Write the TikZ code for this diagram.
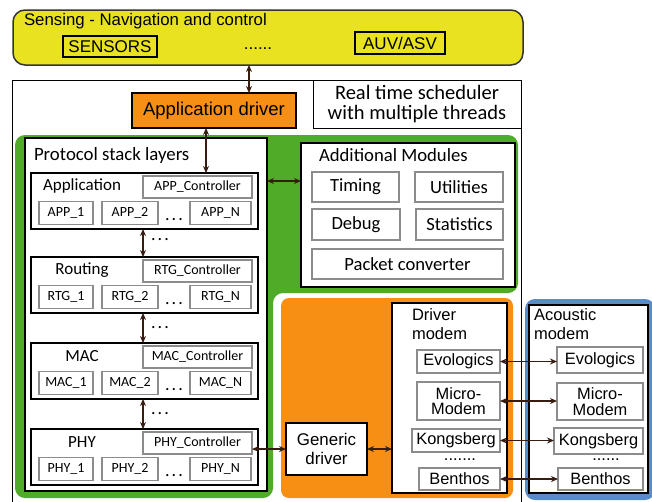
\documentclass[tikz,border=0pt]{standalone}
\usepackage{fontspec}
\setmainfont{Carlito}
\newfontfamily\arialf{Liberation Sans}
\usetikzlibrary{arrows.meta,calc}
\definecolor{cyel}{RGB}{232,226,32}
\definecolor{cgreen}{RGB}{80,172,40}
\definecolor{corange}{RGB}{246,143,20}
\definecolor{cblue}{RGB}{88,140,200}
\definecolor{cgray}{RGB}{140,140,140}
\definecolor{carr}{RGB}{55,28,18}
\newcommand\spdots{.\hspace{2pt}.\hspace{2pt}.}
\begin{document}
\begin{tikzpicture}[x=1pt,y=-1pt,
  every node/.style={inner sep=0pt,outer sep=0pt},
  wh/.style 2 args={minimum width=#1,minimum height=#2},
  tbox/.style={draw=black,line width=2pt,fill=white},
  layer/.style={draw=black,line width=2pt,fill=white},
  sub/.style={draw=cgray,line width=1.1pt,fill=white,font=\fontsize{14}{16}\selectfont},
  mod/.style={draw=cgray,line width=1.1pt,fill=white,font=\fontsize{18.6}{20}\selectfont},
  dev/.style={draw=cgray,line width=1.1pt,fill=white,font=\arialf\fontsize{16.4}{15.5}\selectfont,align=center},
  dotf/.style={font=\fontsize{18}{20}\selectfont},
  arr/.style={draw=carr,line width=1.5pt,{Stealth[length=7pt,width=6pt]}-{Stealth[length=7pt,width=6pt]}},
]
\fill[white] (0,0) rectangle (652,501);
\useasboundingbox (0,0) rectangle (652,501);

% Sensing - navigation
\node[draw=black!80,line width=1.5pt,fill=cyel,rounded corners=12pt,wh={510pt}{55pt}] (sense) at (268,37.5) {};
\node[anchor=west,font=\arialf\fontsize{16.8}{18}\selectfont] (senset) at (24,21) {Sensing - Navigation and control};
\node[draw=black,line width=1.5pt,wh={94pt}{21pt},font=\arialf\fontsize{17}{18}\selectfont] (sensors) at (110,46.5) {SENSORS};
\node[font=\arialf\fontsize{17}{18}\selectfont] (sdots) at (258,49) {......};
\node[draw=black,line width=1.5pt,wh={90pt}{22pt},font=\arialf\fontsize{17}{18}\selectfont] (auv) at (400,43) {AUV/ASV};

% outer frame
\draw[line width=1pt] (12,505) -- (12,80) -- (521,80) -- (521,505);
\node[draw=black,line width=1pt,fill=white,wh={208pt}{48pt},align=center,font=\fontsize{20.5}{20}\selectfont] (rts) at (417,104) {Real time scheduler\\with multiple threads};

% green region
\fill[cgreen,rounded corners=10pt] (15,135) -- (518,135) -- (518,293) -- (273,293) -- (273,498) -- (15,498) -- cycle;

% application driver
\node[draw=black,line width=1.5pt,fill=corange,wh={164pt}{35pt},font=\arialf\fontsize{18.5}{20}\selectfont] (drv) at (214,110.5) {Application driver};

% protocol stack
\node[tbox,wh={242pt}{353pt}] (ps) at (146,314.5) {};
\node[anchor=west,font=\fontsize{18.8}{20}\selectfont] (pst) at (34,155) {Protocol stack layers};

\foreach \n/\lab/\p/\t in {app/Application/APP/173, rtg/Routing/RTG/257, mac/MAC/MAC/343, phy/PHY/PHY/429}{
  \node[layer,wh={227pt}{56pt},anchor=north west] (\n) at (31,\t) {};
  \node[font=\fontsize{17}{19}\selectfont] (\n-l) at (82,\t+13) {\lab};
  \node[sub,wh={109pt}{22pt}] (\n-c) at (197.5,\t+14) {\p\_Controller};
  \node[sub,wh={54pt}{23pt}] (\n-1) at (66,\t+40) {\p\_1};
  \node[sub,wh={56pt}{23pt}] (\n-2) at (130,\t+40) {\p\_2};
  \node[sub,wh={61pt}{23pt}] (\n-n) at (220.5,\t+40) {\p\_N};
  \node[dotf] (\n-d) at (174,\t+47) {\spdots};
}

% additional modules
\node[tbox,wh={214pt}{144pt}] (am) at (408,215) {};
\node[anchor=west,font=\fontsize{18.7}{20}\selectfont] (amt) at (319,155) {Additional Modules};
\node[mod,wh={87pt}{30pt}] (timing) at (355.5,187) {Timing};
\node[mod,wh={88pt}{30pt}] (util) at (459,187) {Utilities};
\node[mod,wh={88pt}{31pt}] (debug) at (356,224.5) {Debug};
\node[mod,wh={87pt}{31pt}] (stats) at (459.5,224.5) {Statistics};
\node[mod,wh={191pt}{30pt}] (pconv) at (407.5,264) {Packet converter};

% orange region
\node[fill=corange,rounded corners=8pt,wh={232pt}{200pt}] (oreg) at (397,398) {};
\node[tbox,wh={81pt}{52pt},align=center,font=\arialf\fontsize{16.9}{18.5}\selectfont] (gd) at (326.5,449) {Generic\\driver};
\node[tbox,wh={115pt}{190pt}] (dm) at (449.5,398) {};
\node[anchor=north west,align=left,font=\arialf\fontsize{16.5}{19}\selectfont] (dmt) at (412,309) {Driver\\modem};
\node[dev,wh={83pt}{23pt}] (d-evo) at (458.5,361.5) {Evologics};
\node[dev,wh={83pt}{38pt}] (d-mm) at (458.5,401) {Micro-\\Modem};
\node[dev,wh={88pt}{23pt}] (d-kg) at (456,440.5) {Kongsberg};
\node[font=\arialf\fontsize{16.5}{18}\selectfont] (d-dots) at (460,460) {.......};
\node[dev,wh={81pt}{22pt}] (d-bt) at (459.5,479) {Benthos};

% acoustic modem
\node[fill=cblue,rounded corners=10pt,wh={130pt}{201pt}] (blue) at (590,399.5) {};
\node[tbox,wh={119pt}{188pt}] (ac) at (588.5,399) {};
\node[anchor=north west,align=left,font=\arialf\fontsize{16.5}{19}\selectfont] (act) at (534,309) {Acoustic\\modem};
\node[dev,wh={86pt}{26pt}] (a-evo) at (600,360) {Evologics};
\node[dev,wh={86pt}{37pt}] (a-mm) at (600,401.5) {Micro-\\Modem};
\node[dev,wh={89pt}{26pt}] (a-kg) at (598.5,441) {Kongsberg};
\node[font=\arialf\fontsize{16.5}{18}\selectfont] (a-dots) at (606,460) {......};
\node[dev,wh={85pt}{22pt}] (a-bt) at (600.5,479) {Benthos};

% connectors
\coordinate (a1) at ($(drv.north)+(35,0)$);
\draw[arr] (a1 |- sense.south) -- (a1);
\coordinate (a2) at ($(drv.south)+(-8,0)$);
\draw[arr] (a2) -- (a2 |- app.north);
\coordinate (a3) at ($(am.west)+(0,-34)$);
\draw[arr] (a3 -| ps.east) -- (a3);

\draw[arr] (app-c.west |- app.south) -- (app-c.west |- rtg.north);
\draw[arr] (rtg-c.west |- rtg.south) -- (rtg-c.west |- mac.north);
\draw[arr] (mac-c.west |- mac.south) -- (mac-c.west |- phy.north);
\node[dotf] (v1) at (160,240) {\spdots};
\node[dotf] (v2) at (160,328) {\spdots};
\node[dotf] (v3) at (160,414) {\spdots};

\draw[arr] (gd.west -| phy-c.east) -- (gd.west);
\draw[arr] (gd.east) -- (gd.east -| dm.west);

\draw[arr] (d-evo.east) -- (d-evo.east -| a-evo.west);
\draw[arr] (d-mm.east) -- (d-mm.east -| a-mm.west);
\draw[arr] (d-kg.east) -- (d-kg.east -| a-kg.west);
\draw[arr] (d-bt.east) -- (d-bt.east -| a-bt.west);
\end{tikzpicture}
\end{document}
